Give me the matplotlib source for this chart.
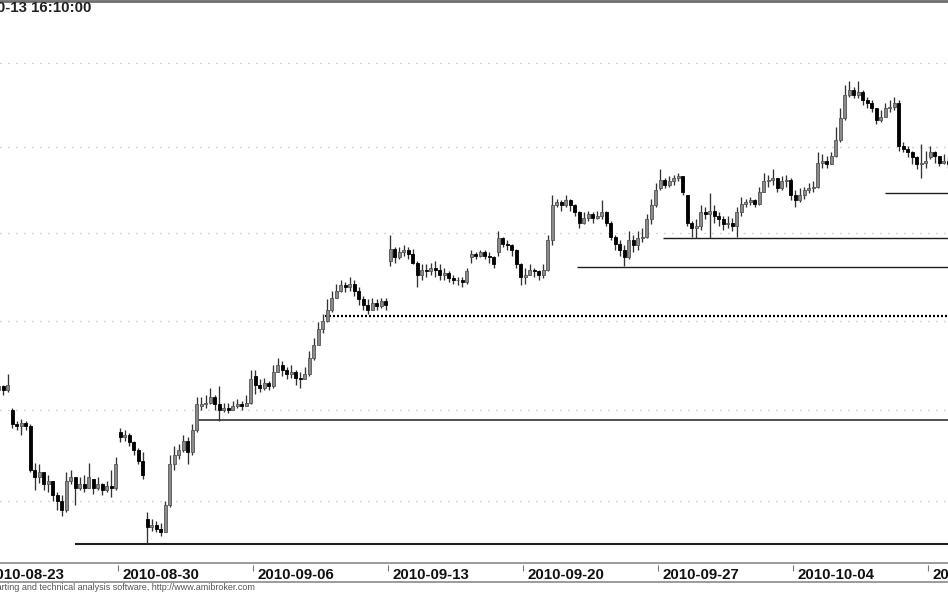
import numpy as np
import matplotlib.pyplot as plt
from matplotlib.lines import Line2D
from matplotlib.ticker import NullLocator
from matplotlib.transforms import offset_copy

# intraday bars, 6 per session, log price scale (AmiBroker style)

week_labels = ["2010-08-23", "2010-08-30", "2010-09-06", "2010-09-13",
               "2010-09-20", "2010-09-27", "2010-10-04", "2010-10-11"]
bars_per_day = 6
bars_per_week = 30

# opening price of each session
day_open = [2458, 2450, 2413, 2395, 2412,
            2438, 2390, 2420, 2452, 2451,
            2469, 2475, 2470, 2513, 2512,
            2534, 2533, 2526, 2536, 2539,
            2525, 2546, 2562, 2562, 2546,
            2576, 2572, 2563, 2562, 2580,
            2572, 2591, 2631, 2623, 2601,
            2594]

close = [
    2460, 2462, 2461, 2463, 2461, 2464,   # 08-23
    2442, 2441, 2443, 2441, 2417, 2413,
    2416, 2409, 2411, 2403, 2400, 2395,
    2411, 2413, 2407, 2409, 2407, 2413,
    2407, 2409, 2406, 2408, 2407, 2420,
    2435, 2436, 2432, 2428, 2422, 2414,   # 08-30
    2386, 2387, 2385, 2383, 2398, 2420,
    2425, 2428, 2433, 2427, 2439, 2453,
    2453, 2454, 2457, 2453, 2450, 2451,
    2450, 2452, 2453, 2452, 2454, 2467,
    2464, 2462, 2465, 2463, 2471, 2475,   # 09-06
    2472, 2470, 2471, 2468, 2467, 2470,
    2479, 2486, 2495, 2500, 2506, 2513,
    2517, 2520, 2519, 2521, 2517, 2512,
    2509, 2506, 2510, 2508, 2511, 2509,
    2541, 2536, 2539, 2540, 2538, 2533,   # 09-13
    2526, 2529, 2528, 2530, 2529, 2526,
    2527, 2524, 2523, 2523, 2522, 2528,
    2538, 2537, 2539, 2537, 2536, 2532,
    2547, 2544, 2543, 2540, 2532, 2525,
    2526, 2529, 2528, 2526, 2529, 2546,   # 09-20
    2566, 2568, 2566, 2569, 2566, 2562,
    2556, 2559, 2561, 2559, 2560, 2562,
    2556, 2548, 2544, 2540, 2536, 2546,
    2543, 2547, 2548, 2558, 2566, 2575,
    2581, 2578, 2580, 2582, 2583, 2574,   # 09-27
    2556, 2553, 2554, 2562, 2561, 2563,
    2560, 2558, 2555, 2556, 2554, 2562,
    2567, 2568, 2569, 2567, 2574, 2580,
    2581, 2582, 2576, 2580, 2581, 2572,
    2569, 2572, 2575, 2576, 2577, 2591,   # 10-04
    2592, 2590, 2595, 2604, 2617, 2631,
    2634, 2631, 2633, 2628, 2626, 2623,
    2616, 2618, 2623, 2624, 2626, 2601,
    2599, 2597, 2594, 2590, 2591, 2592,
    2597, 2595, 2591, 2592, 2590, 2592,   # 10-11
]

high = [
    2463, 2464, 2463, 2466, 2464, 2470,
    2451, 2444, 2445, 2444, 2442, 2421,
    2420, 2416, 2414, 2411, 2405, 2403,
    2416, 2417, 2413, 2413, 2414, 2421,
    2412, 2413, 2410, 2411, 2417, 2424,
    2440, 2439, 2437, 2433, 2429, 2427,
    2394, 2390, 2389, 2388, 2400, 2425,
    2430, 2431, 2436, 2435, 2442, 2457,
    2457, 2458, 2462, 2458, 2463, 2454,
    2454, 2455, 2456, 2455, 2458, 2472,
    2472, 2467, 2468, 2466, 2475, 2479,
    2477, 2474, 2475, 2472, 2471, 2474,
    2483, 2490, 2499, 2504, 2512, 2517,
    2521, 2523, 2522, 2525, 2523, 2519,
    2514, 2512, 2513, 2512, 2513, 2513,
    2549, 2542, 2542, 2543, 2542, 2541,
    2534, 2532, 2532, 2533, 2534, 2532,
    2530, 2528, 2526, 2525, 2525, 2530,
    2540, 2539, 2540, 2540, 2539, 2537,
    2551, 2548, 2546, 2544, 2541, 2533,
    2530, 2532, 2530, 2529, 2532, 2549,
    2572, 2570, 2569, 2572, 2570, 2567,
    2563, 2562, 2563, 2562, 2563, 2569,
    2563, 2557, 2549, 2546, 2543, 2551,
    2549, 2551, 2553, 2561, 2570, 2579,
    2587, 2582, 2583, 2584, 2585, 2583,
    2572, 2557, 2558, 2566, 2565, 2573,
    2566, 2562, 2560, 2560, 2559, 2565,
    2571, 2570, 2571, 2570, 2577, 2585,
    2584, 2587, 2582, 2583, 2584, 2582,
    2575, 2576, 2577, 2579, 2580, 2597,
    2596, 2595, 2597, 2612, 2623, 2637,
    2639, 2636, 2639, 2634, 2630, 2628,
    2623, 2622, 2626, 2628, 2630, 2628,
    2603, 2601, 2598, 2595, 2602, 2598,
    2601, 2598, 2595, 2596, 2594, 2596,
]

low = [
    2457, 2459, 2458, 2460, 2458, 2460,
    2440, 2439, 2436, 2439, 2416, 2406,
    2410, 2406, 2405, 2400, 2395, 2392,
    2394, 2409, 2398, 2406, 2405, 2407,
    2404, 2406, 2403, 2405, 2402, 2406,
    2432, 2433, 2430, 2425, 2420, 2412,
    2377, 2384, 2383, 2381, 2383, 2397,
    2417, 2423, 2427, 2420, 2425, 2438,
    2450, 2451, 2453, 2450, 2444, 2449,
    2448, 2450, 2451, 2450, 2452, 2453,
    2459, 2460, 2461, 2461, 2462, 2471,
    2469, 2467, 2468, 2464, 2462, 2467,
    2469, 2478, 2486, 2493, 2499, 2505,
    2514, 2516, 2516, 2517, 2514, 2509,
    2506, 2504, 2506, 2506, 2507, 2506,
    2531, 2533, 2535, 2537, 2535, 2532,
    2519, 2523, 2525, 2526, 2525, 2523,
    2523, 2522, 2521, 2520, 2519, 2521,
    2533, 2535, 2536, 2535, 2533, 2530,
    2537, 2542, 2540, 2537, 2530, 2520,
    2521, 2526, 2525, 2523, 2524, 2528,
    2543, 2565, 2563, 2565, 2563, 2560,
    2553, 2555, 2557, 2556, 2558, 2558,
    2554, 2546, 2540, 2537, 2531, 2535,
    2539, 2540, 2545, 2547, 2555, 2565,
    2575, 2576, 2577, 2578, 2580, 2572,
    2554, 2548, 2547, 2552, 2558, 2547,
    2556, 2554, 2552, 2553, 2551, 2548,
    2560, 2565, 2566, 2565, 2566, 2574,
    2577, 2578, 2574, 2575, 2577, 2569,
    2565, 2568, 2570, 2573, 2574, 2576,
    2588, 2588, 2591, 2594, 2603, 2616,
    2630, 2629, 2629, 2625, 2623, 2621,
    2614, 2615, 2618, 2621, 2622, 2598,
    2597, 2594, 2590, 2587, 2582, 2588,
    2593, 2591, 2589, 2590, 2588, 2589,
]

grid_levels = [2400, 2450, 2500, 2550, 2600, 2650]
# hand drawn support lines: price and starting bar
support = [2377, 2444.5, 2530.5, 2547, 2573]
support_start = [20, 47, 131.5, 150.5, 200]
support_lw = [1.5, 1.1, 1.0, 1.0, 1.0]
dotted_level = 2502.5
dotted_start = 75.5

# ---- build OHLC
n = len(close)
idx = np.arange(n)
c = np.array(close, dtype=float)
o = np.empty(n)
for i in range(n):
    if i % bars_per_day == 0:
        o[i] = day_open[i // bars_per_day]
    else:
        o[i] = c[i - 1]
h = np.maximum(np.array(high, dtype=float), np.maximum(o, c))
l = np.minimum(np.array(low, dtype=float), np.minimum(o, c))

xlim = (3.28, 213.94)

fig = plt.figure(figsize=(9.48, 5.93), dpi=100)
ax = fig.add_axes([0, 31 / 593, 1, 560 / 593])
ax.set_yscale("log")
ax.set_ylim(2367.1, 2686.9)
ax.set_xlim(*xlim)
ax.set_yticks(grid_levels)
ax.yaxis.set_minor_locator(NullLocator())
ax.set_xticks([])
ax.tick_params(left=False, labelleft=False)
for s in ax.spines.values():
    s.set_visible(False)
ax.grid(axis="y", color="#a8a8a8", lw=0.9, linestyle=(0, (0.8, 5.6)))
ax.set_axisbelow(True)

# candles
ax.vlines(idx, l, h, color="#333333", lw=0.95, zorder=3)
up = c >= o
ax.bar(idx[up], (c - o)[up], bottom=o[up], width=0.7, color="#8a8a8a",
       edgecolor="#555555", lw=0.6, zorder=4)
ax.bar(idx[~up], (c - o)[~up], bottom=o[~up], width=0.7, color="black",
       edgecolor="black", lw=0.6, zorder=4)

# support / resistance lines
for lev, x0, lw in zip(support, support_start, support_lw):
    ax.hlines(lev, x0, xlim[1] + 5, colors="#1e1e1e", lw=lw, zorder=2)
ax.hlines(dotted_level, dotted_start, xlim[1] + 5, colors="black", lw=1.6,
          linestyles=[(0, (0.9, 0.9))], zorder=2)

# date band under the chart
axd = fig.add_axes([0, 11 / 593, 1, 19 / 593])
axd.set_xlim(*xlim)
axd.set_ylim(0, 1)
axd.set_xticks([])
axd.set_yticks([])
axd.patch.set_alpha(0)
for side in ("left", "right"):
    axd.spines[side].set_visible(False)
for side in ("top", "bottom"):
    axd.spines[side].set_color("#8a8a8a")
    axd.spines[side].set_linewidth(1.2)

tick_pos = [w * bars_per_week - 0.5 for w in range(len(week_labels))]
axd.vlines(tick_pos, 0.58, 0.9, color="#777777", lw=0.8)
lbl_trans = offset_copy(axd.transData, fig=fig, x=4.5, y=0, units="dots")
for x, lab in zip(tick_pos, week_labels):
    axd.text(x, 0.16, lab, transform=lbl_trans, ha="left", va="baseline",
             fontsize=10.8, fontweight="bold", family="Liberation Sans",
             color="#111111")

# header and footer
fig.text(91 / 948, 1 - 1.5 / 593, "2010-10-13 16:10:00", ha="right", va="top",
         fontsize=10.8, fontweight="bold", family="Liberation Sans",
         color="#222222")
fig.text(255 / 948, 3 / 593,
         "AmiBroker - charting and technical analysis software, http://www.amibroker.com",
         ha="right", va="baseline", fontsize=6.5, family="Liberation Sans",
         color="#555555")
fig.add_artist(Line2D([0, 1], [1 - 1 / 593, 1 - 1 / 593], color="#6e6e6e",
                      lw=2.0))

fig.savefig("out.png", dpi=100)
